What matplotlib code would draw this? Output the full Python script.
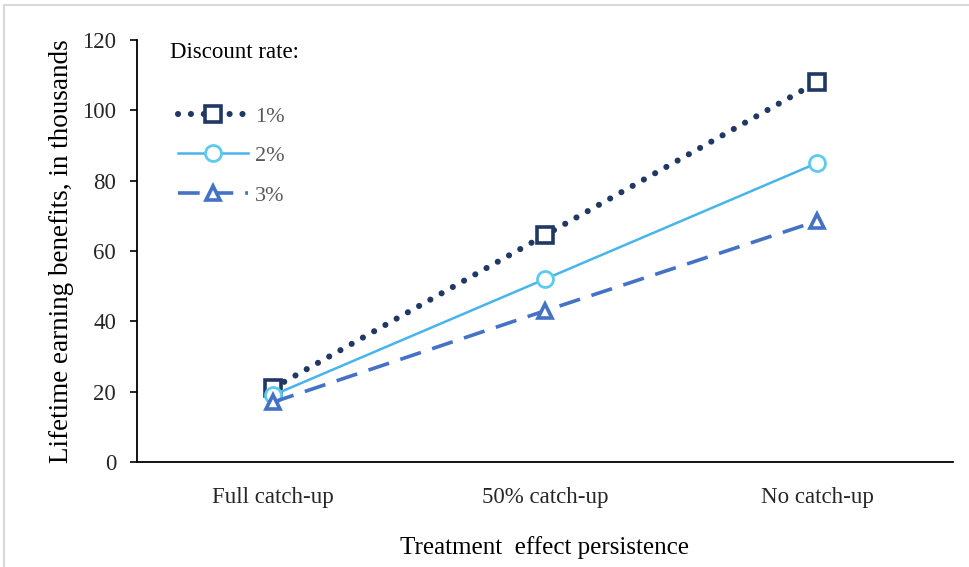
import matplotlib.pyplot as plt
from matplotlib.patches import Rectangle

plt.rcParams['font.family'] = ['Liberation Serif', 'DejaVu Serif']

categories = ['Full catch-up', '50% catch-up', 'No catch-up']
rate_1 = [21, 64.5, 108]
rate_2 = [19, 52, 85]
rate_3 = [17, 43, 68.5]
labels = ['1%', '2%', '3%']

fig = plt.figure(figsize=(9.7, 5.67), dpi=100)
ax = fig.add_axes([0.1412, 0.1852, 0.8413, 0.7443])

# light frame round the figure
fig.patches.append(Rectangle((4 / 970, -0.1), 1.1, (567 - 5) / 567 + 0.1,
                             transform=fig.transFigure, fill=False,
                             edgecolor='#d9d9d9', linewidth=1.5))

x = range(len(categories))
ax.plot(x, rate_1, color='#203864', linestyle=(0, (0.01, 2.1)), linewidth=4.4,
        dash_capstyle='round', marker='s', markersize=11, markerfacecolor='white',
        markeredgewidth=2.6, markeredgecolor='#203864', label=labels[0])
ax.plot(x, rate_2, color='#48b4ee', linestyle='-', linewidth=1.8,
        marker='o', markersize=11.5, markerfacecolor='white',
        markeredgewidth=2, markeredgecolor='#5ccbee', label=labels[1])
ax.plot(x, rate_3, color='#4472c4', linestyle=(0, (6, 3.3)), linewidth=2.6,
        marker='^', markersize=10, markerfacecolor='white',
        markeredgewidth=2.6, markeredgecolor='#4472c4', label=labels[2])

ax.set_xlim(-0.5, 2.5)
ax.set_ylim(0, 120)
ax.set_yticks(range(0, 121, 20))
ax.set_xticks(list(x))
ax.set_xticklabels(categories)
ax.tick_params(axis='y', direction='out', length=5, width=1.2, labelsize=16.5,
               labelcolor='#262626', pad=10)
ax.tick_params(axis='x', length=0, labelsize=16.5, labelcolor='#262626', pad=18)

for side in ['top', 'right']:
    ax.spines[side].set_visible(False)
ax.spines['left'].set_linewidth(1.3)
ax.spines['bottom'].set_linewidth(1.3)

ax.set_ylabel('Lifetime earning benefits, in thousands', fontsize=19.5, labelpad=6)
ax.set_xlabel('Treatment  effect persistence', fontsize=18, labelpad=20)

fig.text(170 / 970, 1 - 52 / 567, 'Discount rate:', fontsize=16.5,
         ha='left', va='center')
leg = ax.legend(loc='upper left', frameon=False, fontsize=16,
                handlelength=3.15, handletextpad=0.3, labelspacing=0.85,
                borderpad=0, bbox_to_anchor=(167 / 970, 1 - 95 / 567),
                bbox_transform=fig.transFigure)
for t in leg.get_texts():
    t.set_color('#595959')

fig.savefig('out.png', dpi=100)
